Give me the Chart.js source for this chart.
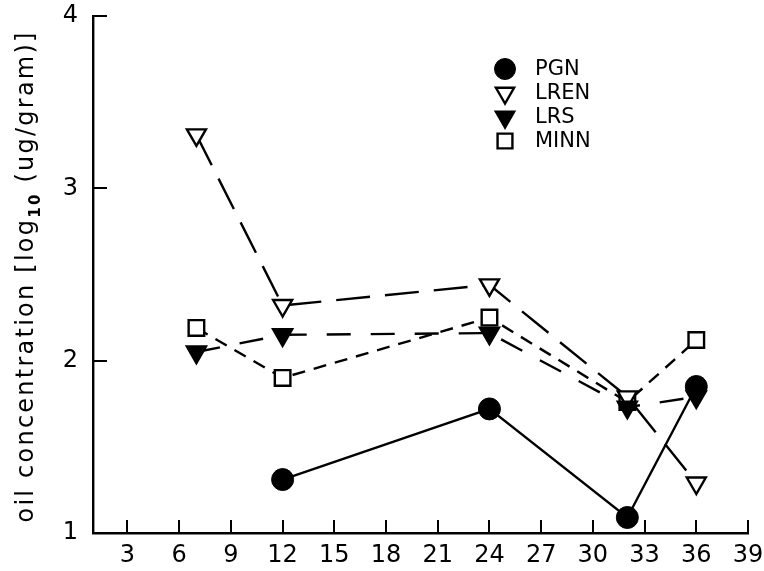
<!DOCTYPE html>
<html>
<head>
<meta charset="utf-8">
<script src="https://cdn.jsdelivr.net/npm/chart.js@4"></script>
<style>
  html, body { margin: 0; padding: 0; background: #fff; }
  #wrap { width: 764px; height: 571px; }
</style>
</head>
<body>
<div id="wrap"><canvas id="myChart" width="764" height="571"></canvas></div>
<script>
// days sampled
const days = [7, 12, 24, 32, 36];
const pgnDays = [12, 24, 32, 36];

// log10 oil concentration (ug/gram)
const pgn = [1.31, 1.72, 1.09, 1.85];
const lren = [3.31, 2.32, 2.44, 1.79, 1.29];
const lrs = [2.05, 2.15, 2.16, 1.73, 1.79];
const minn = [2.19, 1.90, 2.25, 1.76, 2.12];

const xTicks = [3, 6, 9, 12, 15, 18, 21, 24, 27, 30, 33, 36, 39];
const yTicks = [1, 2, 3, 4];

const pts = (xs, ys) => xs.map((x, i) => ({ x: x, y: ys[i] }));
const FONT = '"DejaVu Sans", Verdana, sans-serif';

const datasets = [
  {
    label: 'PGN', data: pts(pgnDays, pgn), order: 0,
    borderColor: '#000', borderWidth: 2.4,
    pointStyle: 'circle', pointRadius: 11,
    pointBackgroundColor: '#000', pointBorderColor: '#000', pointBorderWidth: 1
  },
  {
    label: 'LREN', data: pts(days, lren), order: 2,
    borderColor: '#000', borderWidth: 2.4, borderDash: [34, 15],
    pointStyle: 'triangle', pointRotation: 180, pointRadius: 11,
    pointBackgroundColor: '#fff', pointBorderColor: '#000', pointBorderWidth: 2.4
  },
  {
    label: 'LRS', data: pts(days, lrs), order: 1,
    borderColor: '#000', borderWidth: 2.4, borderDash: [24, 20],
    pointStyle: 'triangle', pointRotation: 180, pointRadius: 11,
    pointBackgroundColor: '#000', pointBorderColor: '#000', pointBorderWidth: 2.4
  },
  {
    label: 'MINN', data: pts(days, minn), order: 3,
    borderColor: '#000', borderWidth: 2.4, borderDash: [13, 9],
    pointStyle: 'rect', pointRadius: 11,
    pointBackgroundColor: '#fff', pointBorderColor: '#000', pointBorderWidth: 2.4
  }
];

// ticks pointing into the plot
const innerTicks = {
  id: 'innerTicks',
  afterDraw(chart) {
    const ctx = chart.ctx, xs = chart.scales.x, ys = chart.scales.y;
    const a = chart.chartArea;
    ctx.save();
    ctx.strokeStyle = '#000';
    ctx.lineWidth = 2;
    ctx.beginPath();
    xTicks.forEach(v => {
      const px = Math.round(xs.getPixelForValue(v));
      ctx.moveTo(px, a.bottom);
      ctx.lineTo(px, a.bottom - 13);
    });
    yTicks.slice(1).forEach(v => {
      const py = Math.round(ys.getPixelForValue(v));
      ctx.moveTo(a.left, py);
      ctx.lineTo(a.left + 14, py);
    });
    ctx.stroke();
    ctx.restore();
  }
};

// rotated y title with subscript, spread to the plot height like the original
const yTitle = {
  id: 'yTitle',
  afterDraw(chart) {
    const ctx = chart.ctx, a = chart.chartArea;
    const parts = [
      { t: 'oil concentration [log', f: '24px ' + FONT, dy: 0 },
      { t: '10', f: 'bold 15px ' + FONT, dy: 7 },
      { t: ' (ug/gram)]', f: '24px ' + FONT, dy: 0 }
    ];
    ctx.save();
    let natural = 0, count = 0;
    parts.forEach(p => { ctx.font = p.f; natural += ctx.measureText(p.t).width; count += p.t.length; });
    const spacing = Math.max(0, (492 - natural) / count);
    const total = natural + spacing * count;
    ctx.translate(33, (a.top + a.bottom) / 2 + 2);
    ctx.rotate(-Math.PI / 2);
    ctx.fillStyle = '#000';
    ctx.textBaseline = 'alphabetic';
    ctx.letterSpacing = spacing.toFixed(2) + 'px';
    let x = -total / 2;
    parts.forEach(p => {
      ctx.font = p.f;
      ctx.fillText(p.t, x, p.dy);
      x += ctx.measureText(p.t).width;
    });
    ctx.restore();
  }
};

// legend inside the plot, top right
const innerLegend = {
  id: 'innerLegend',
  afterDraw(chart) {
    const ctx = chart.ctx, a = chart.chartArea;
    const x0 = a.left + 412, y0 = 69, step = 24;
    ctx.save();
    ['PGN', 'LREN', 'LRS', 'MINN'].forEach((name, i) => {
      const ds = chart.data.datasets.find(d => d.label === name);
      const y = y0 + i * step;
      ctx.fillStyle = ds.pointBackgroundColor;
      ctx.strokeStyle = ds.pointBorderColor;
      ctx.lineWidth = ds.pointBorderWidth;
      Chart.helpers.drawPoint(ctx, {
        pointStyle: ds.pointStyle, rotation: ds.pointRotation || 0,
        radius: ds.pointRadius - 0.5, borderWidth: ds.pointBorderWidth
      }, x0, y);
      ctx.fillStyle = '#000';
      ctx.font = '21px ' + FONT;
      ctx.textBaseline = 'middle';
      ctx.fillText(name, x0 + 30, y + 1);
    });
    ctx.restore();
  }
};

const config = {
  type: 'line',
  data: { datasets: datasets },
  options: {
    responsive: false,
    animation: false,
    layout: { padding: { left: 0, top: 16, right: 16, bottom: 0 } },
    plugins: { legend: { display: false }, tooltip: { enabled: false } },
    scales: {
      x: {
        type: 'linear', min: 1, max: 39,
        afterBuildTicks: s => { s.ticks = xTicks.map(v => ({ value: v })); },
        afterFit: s => { s.height = 38; s.paddingLeft = 0; s.paddingRight = 0; },
        grid: { display: true, drawOnChartArea: false, drawTicks: false },
        border: { display: true, color: '#000', width: 2.4 },
        ticks: { color: '#000', padding: 8, autoSkip: false, maxRotation: 0,
                 font: { family: FONT, size: 24 } }
      },
      y: {
        min: 1, max: 4,
        afterBuildTicks: s => { s.ticks = yTicks.map(v => ({ value: v })); },
        afterFit: s => { s.width = 93; s.paddingTop = 0; s.paddingBottom = 0; },
        grid: { display: true, drawOnChartArea: false, drawTicks: false },
        border: { display: true, color: '#000', width: 2.4 },
        ticks: { color: '#000', padding: 15, font: { family: FONT, size: 24 } },
        title: { display: false }
      }
    }
  },
  plugins: [innerTicks, yTitle, innerLegend]
};

const myChart = new Chart(document.getElementById('myChart'), config);
</script>
</body>
</html>
